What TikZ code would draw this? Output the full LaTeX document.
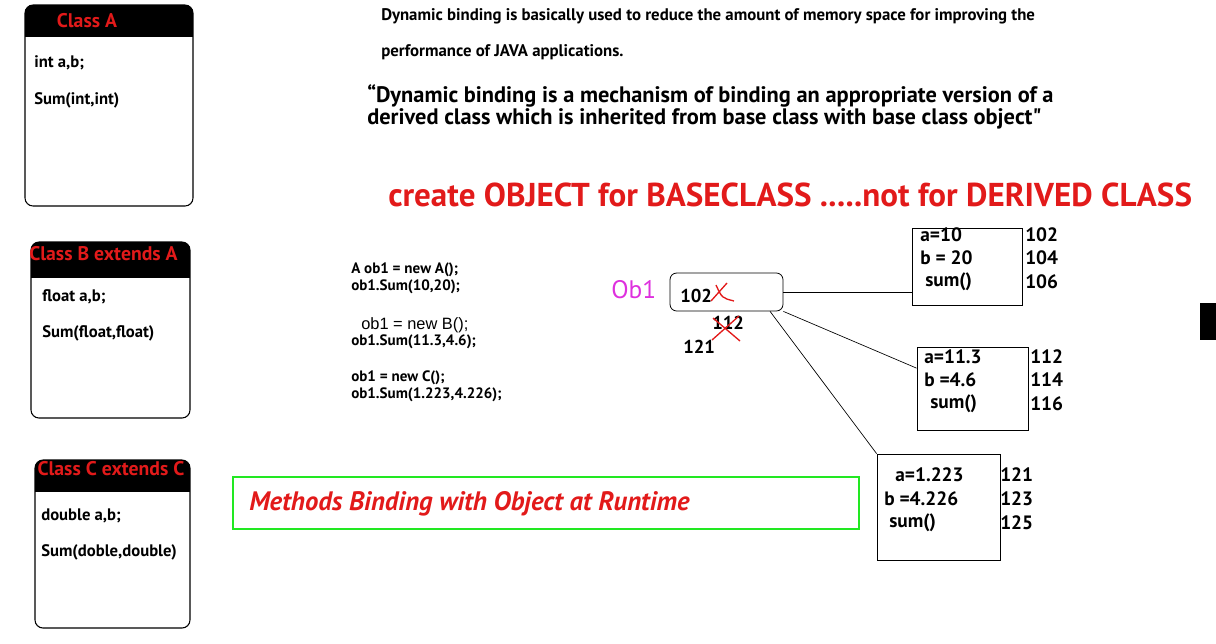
\documentclass[tikz,border=0pt]{standalone}
\usepackage{fontspec}
\setmainfont{PT Sans}
\newfontfamily\arialfont{Liberation Sans}
\usepackage{xcolor}
\usetikzlibrary{positioning}
\definecolor{titlered}{RGB}{226,26,26}
\definecolor{obpink}{RGB}{222,48,222}
\definecolor{framegreen}{RGB}{34,232,34}
\tikzset{classbox/.style={draw, rounded corners=6pt, line width=0.8pt, inner sep=0pt,
    path picture={\fill[black, sharp corners] (path picture bounding box.north west) rectangle ([yshift=-#1]path picture bounding box.north east);}}}
\tikzstyle{classtitle} = [inner sep=0pt, text=titlered, font=\bfseries\fontsize{14.8}{17}\selectfont]
\tikzstyle{membertext} = [anchor=west, inner sep=0pt, font=\bfseries\fontsize{12.5}{14}\selectfont]
\tikzstyle{infotext} = [anchor=west, inner sep=0pt, font=\bfseries\fontsize{12.6}{14}\selectfont]
\tikzstyle{codetext} = [anchor=west, inner sep=0pt, font=\bfseries\fontsize{11.3}{13}\selectfont]
\tikzstyle{objbox} = [draw, rounded corners=5pt, line width=0.6pt, inner sep=0pt]
\tikzstyle{membox} = [draw, line width=0.6pt, inner sep=0pt]
\tikzstyle{memtext} = [anchor=west, inner sep=0pt, font=\bfseries\fontsize{14.5}{16}\selectfont]
\tikzstyle{runtimebox} = [draw=framegreen, line width=2.2pt, inner sep=0pt]
\tikzstyle{link} = [line width=0.5pt]
\tikzstyle{strike} = [draw=titlered, line width=1pt]

\begin{document}
\begin{tikzpicture}[x=0.75pt, y=-0.75pt]
    \useasboundingbox (0,0) rectangle (1216,643);

    % Define class blocks
    \node (classA) [classbox=24pt, minimum width=126pt, minimum height=150.75pt] at (109,105.5) {};
    \node (classB) [classbox=27pt, minimum width=119.25pt, minimum height=132pt] at (110.5,330) {};
    \node (classC) [classbox=24pt, minimum width=116.25pt, minimum height=126pt] at (112.5,544) {};
    \node (titleA) [classtitle] at (87,21) {Class A};
    \node (titleB) [classtitle] at (103.5,254) {Class B extends A};
    \node (titleC) [classtitle] at (111,469) {Class C extends C};
    \node (varA) [membertext] at (34,63) {int a,b;};
    \node (sumA) [membertext] at (34,100) {Sum(int,int)};
    \node (varB) [membertext] at (42,297) {float a,b;};
    \node (sumB) [membertext] at (42,333) {Sum(float,float)};
    \node (varC) [membertext] at (41,516) {double a,b;};
    \node (sumC) [membertext] at (41,552) {Sum(doble,double)};

    % Define text blocks
    \node (info1) [infotext] at (381,16) {Dynamic binding is basically used to reduce the amount of memory space for improving the};
    \node (info2) [infotext] at (381,52) {performance of JAVA applications.};
    \node (quote1) [infotext, font=\bfseries\fontsize{16.8}{19}\selectfont] at (367,96) {“Dynamic binding is a mechanism of binding an appropriate version of a};
    \node (quote2) [infotext, font=\bfseries\fontsize{16.8}{19}\selectfont] at (367,119) {derived class which is inherited from base class with base class object\textquotedbl};
    \node (rule) [infotext, text=titlered, font=\bfseries\fontsize{24.8}{28}\selectfont] at (388,195) {create OBJECT for BASECLASS .....not for DERIVED CLASS};

    % Define code lines
    \node (codeA) [codetext] at (351,270) {A ob1 = new A();};
    \node (callA) [codetext] at (351,287) {ob1.Sum(10,20);};
    \node (codeB) [codetext, font=\arialfont\fontsize{12.3}{14}\selectfont] at (361,325) {ob1 = new B();};
    \node (callB) [codetext] at (351,342) {ob1.Sum(11.3,4.6);};
    \node (codeC) [codetext] at (351,378) {ob1 = new C();};
    \node (callC) [codetext] at (351,395) {ob1.Sum(1.223,4.226);};

    % Define reference and memory blocks
    \node (oblabel) [anchor=west, inner sep=0pt, text=obpink, font=\fontsize{19}{21}\selectfont] at (611,290) {Ob1};
    \node (obj) [objbox, minimum width=84.75pt, minimum height=28.5pt] at (726.5,292) {};
    \node (addr1) [membertext, font=\bfseries\fontsize{14}{16}\selectfont] at (680,296) {102};
    \node (addr2) [membertext, font=\bfseries\fontsize{14}{16}\selectfont] at (712,323) {112};
    \node (addr3) [membertext, font=\bfseries\fontsize{14}{16}\selectfont] at (683,347) {121};
    \node (mem1) [membox, minimum width=82.5pt, minimum height=57.75pt] at (967,266.5) {};
    \node (mem2) [membox, minimum width=83.25pt, minimum height=62.25pt] at (972.5,388.5) {};
    \node (mem3) [membox, minimum width=92.25pt, minimum height=79.5pt] at (938.5,507) {};
    \node (m1a) [memtext] at (920,235) {a=10};
    \node (m1b) [memtext] at (920,258) {b = 20};
    \node (m1c) [memtext] at (925,282) {sum()};
    \node (m1x) [memtext] at (1025,235) {102};
    \node (m1y) [memtext] at (1025,258) {104};
    \node (m1z) [memtext] at (1025,282) {106};
    \node (m2a) [memtext] at (924,357) {a=11.3};
    \node (m2b) [memtext] at (924,380) {b =4.6};
    \node (m2c) [memtext] at (930,404) {sum()};
    \node (m2x) [memtext] at (1030,357) {112};
    \node (m2y) [memtext] at (1030,380) {114};
    \node (m2z) [memtext] at (1030,404) {116};
    \node (m3a) [memtext] at (895,475) {a=1.223};
    \node (m3b) [memtext] at (884,499) {b =4.226};
    \node (m3c) [memtext] at (889,523) {sum()};
    \node (m3x) [memtext] at (1000,475) {121};
    \node (m3y) [memtext] at (1000,499) {123};
    \node (m3z) [memtext] at (1000,523) {125};

    % Runtime banner
    \node (runtime) [runtimebox, minimum width=469.5pt, minimum height=39pt] at (546,503) {};
    \node (runtimetext) [anchor=west, inner sep=0pt, text=titlered, font=\bfseries\itshape\fontsize{20}{23}\selectfont] at (249,504) {Methods Binding with Object at Runtime};

    % Draw links
    \draw [link] (obj.east) -- (obj.east -| mem1.west);
    \draw [link] (obj.south east) -- (mem2.160);
    \draw [link] ([xshift=-10pt]obj.south east) -- (mem3.north west);

    % Struck addresses
    \draw [strike] (711,301) -- (727,283);
    \draw [strike] (716,285) .. controls (722,298) .. (734,301);
    \draw [strike] (712,340) -- (739,316);
    \draw [strike] (713,318) -- (740,341);

    \fill (1200,303) rectangle (1216,340);
\end{tikzpicture}
\end{document}
